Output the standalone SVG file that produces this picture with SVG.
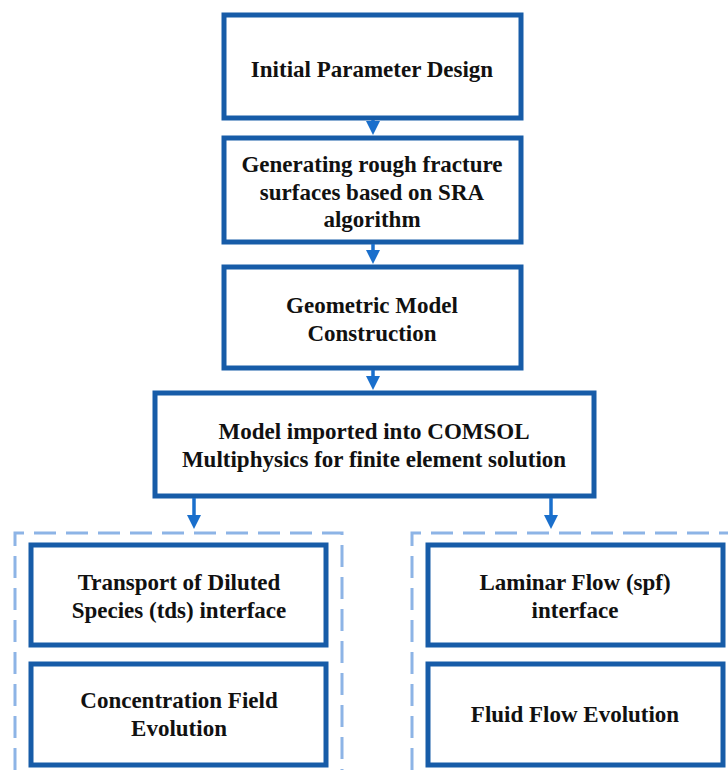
<svg xmlns="http://www.w3.org/2000/svg" width="728" height="770" viewBox="0 0 728 770">
<defs>
<marker id="ah" markerWidth="4" markerHeight="4" refX="2" refY="2" orient="auto" markerUnits="strokeWidth" viewBox="0 0 4 4">
<path d="M0,0 L4,2 L0,4 Z" fill="#1a6fcc"/>
</marker>
<style>
.box{fill:#fff;stroke:#175ca8;stroke-width:5}
.grp{fill:none;stroke:#8db4e6;stroke-width:3;stroke-dasharray:22 10}
.t{font-family:"Liberation Serif","Times New Roman",serif;font-weight:bold;font-size:23px;fill:#111;text-anchor:middle}
.c{stroke:#1a6fcc;stroke-width:3.5;fill:none}
</style>
</defs>
<rect width="728" height="770" fill="#fff"/>
<g id="groups">
<path class="grp" d="M15,770 L15,533 L342,533 L342,770"/>
<path class="grp" d="M412,770 L412,533 L728,533"/>
</g>
<g id="n1"><rect class="box" x="224" y="15" width="297" height="103"/><text class="t" x="372" y="77">Initial Parameter Design</text></g>
<g id="n2"><rect class="box" x="224" y="138" width="297" height="104"/><text class="t" x="372" y="172">Generating rough fracture</text><text class="t" x="372" y="200">surfaces based on SRA</text><text class="t" x="372" y="227">algorithm</text></g>
<g id="n3"><rect class="box" x="224" y="267" width="297" height="101"/><text class="t" x="372" y="313">Geometric Model</text><text class="t" x="372" y="341">Construction</text></g>
<g id="n4"><rect class="box" x="155" y="393" width="439" height="103"/><text class="t" x="374" y="439">Model imported into COMSOL</text><text class="t" x="374" y="467">Multiphysics for finite element solution</text></g>
<g id="n5"><rect class="box" x="31" y="545" width="295" height="100"/><text class="t" x="179" y="590">Transport of Diluted</text><text class="t" x="179" y="618">Species (tds) interface</text></g>
<g id="n6"><rect class="box" x="31" y="664" width="295" height="101"/><text class="t" x="179" y="708">Concentration Field</text><text class="t" x="179" y="736">Evolution</text></g>
<g id="n7"><rect class="box" x="428" y="545" width="295" height="100"/><text class="t" x="575" y="590">Laminar Flow (spf)</text><text class="t" x="575" y="618">interface</text></g>
<g id="n8"><rect class="box" x="428" y="664" width="295" height="101"/><text class="t" x="575" y="722">Fluid Flow Evolution</text></g>
<g id="connectors">
<line class="c" x1="373" y1="120" x2="373" y2="128" marker-end="url(#ah)"/>
<line class="c" x1="373" y1="244" x2="373" y2="257" marker-end="url(#ah)"/>
<line class="c" x1="373" y1="370" x2="373" y2="383" marker-end="url(#ah)"/>
<line class="c" x1="194" y1="498" x2="194" y2="522" marker-end="url(#ah)"/>
<line class="c" x1="551" y1="498" x2="551" y2="522" marker-end="url(#ah)"/>
</g>
</svg>
